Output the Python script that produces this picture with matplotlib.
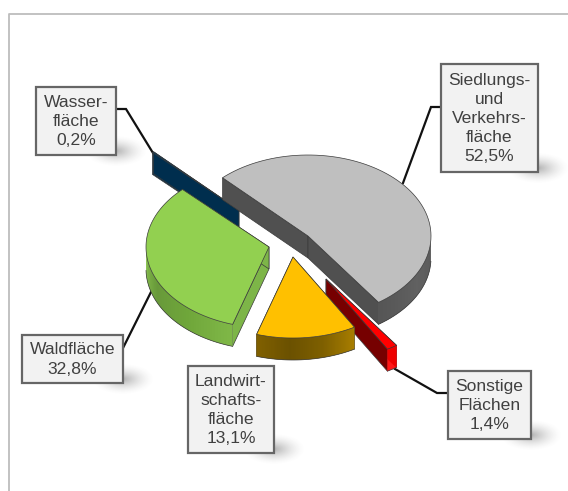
import numpy as np
import matplotlib
matplotlib.use('Agg')
import matplotlib.pyplot as plt
from matplotlib.colors import to_rgb

# data
names = ['Siedlungs-\nund\nVerkehrs-\nfläche', 'Sonstige\nFlächen', 'Landwirt-\nschafts-\nfläche',
         'Waldfläche', 'Wasser-\nfläche']
values = [52.5, 1.4, 13.1, 32.8, 0.2]

# style, one entry per slice
top_colors = ['#BFBFBF', '#FF0000', '#FFC000', '#92D050', '#003A63']
side_colors = ['#505050', '#760000', '#7F6000', '#7DB548', '#002E4E']
wall_colors = [['#5A5A5A', '#616161', '#565656'], ['#FF0000', '#FF0000'], ['#A87E00', '#7F6000', '#6B5100', '#806000'],
               ['#7FB747', '#6FA63A', '#68993A', '#88C24E'], ['#003A63', '#003A63']]
centers = [(308, 236), (326, 279), (293, 257), (269, 247), (239, 210)]
boxes = [(441, 64, 538, 172), (448, 371, 531, 439), (188, 366, 274, 453), (22, 335, 123, 383), (36, 87, 116, 155)]
leaders = [[(441, 107), (431, 107), (403, 183)],
           [(448, 393), (437, 393), (395, 369)],
           [(123, 348), (152, 290)],
           [(116, 109), (126, 109), (153, 153)]]
draw_order = [4, 0, 1, 3, 2]
RX, RY, DEPTH = 123, 81, 22
START = 134

fig = plt.figure(figsize=(5.68, 4.91), dpi=100)
ax = fig.add_axes([0, 0, 1, 1])
ax.set_xlim(0, 568)
ax.set_ylim(491, 0)
ax.axis('off')

# frame of the original slide
ax.plot([8.5, 8.5, 568], [491, 14, 14], color='#BDBDBD', lw=1.3, zorder=1)


def point(c, t):
    return c[0] + RX * np.cos(np.radians(t)), c[1] - RY * np.sin(np.radians(t))


def draw_slice(i, t1, t2):
    c = centers[i]
    tt = np.linspace(t1, t2, 80)
    xs, ys = point(c, tt)
    edge = '#3a3a3a'
    # the two cut faces
    for t in (t1, t2):
        x, y = point(c, t)
        ax.fill([c[0], x, x, c[0]], [c[1], y, y + DEPTH, c[1] + DEPTH], color=side_colors[i],
                ec=edge, lw=0.5, zorder=3)
    # outer wall, only the part facing us. each piece overlaps the next to hide seams
    a = np.linspace(0, 1, len(wall_colors[i]))
    rgb = np.array([to_rgb(col) for col in wall_colors[i]])
    ws = [t for t in tt if np.sin(np.radians(t)) <= 0]
    for k in range(len(ws) - 1):
        f = k / max(len(ws) - 2, 1)
        col = [np.interp(f, a, rgb[:, n]) for n in range(3)]
        x, y = point(c, np.array([ws[k], ws[min(k + 2, len(ws) - 1)]]))
        ax.fill([x[0], x[1], x[1], x[0]], [y[0], y[1], y[1] + DEPTH, y[0] + DEPTH], color=col, lw=0, zorder=3)
    if ws:
        x, y = point(c, np.array(ws))
        ax.plot(x, y + DEPTH, color=edge, lw=0.5, zorder=3)
    ax.fill(np.r_[c[0], xs], np.r_[c[1], ys], facecolor=top_colors[i], edgecolor=edge, lw=0.5, zorder=3)


# clockwise from the start angle, so every slice gets its angle from its value
limits = START - np.r_[0, np.cumsum(values)] * 3.6
for i in draw_order:
    draw_slice(i, limits[i], limits[i + 1])

for line in leaders:
    ax.plot([p[0] for p in line], [p[1] for p in line], color='#111111', lw=1.6, zorder=2,
            solid_joinstyle='miter')

# blurred shadow at the lower right corner of each label
yy, xx = np.mgrid[-1:1:60j, -1:1:120j]
alpha = np.clip(1 - np.sqrt(xx ** 2 + yy ** 2), 0, 1) ** 1.6 * 0.55
shadow = np.zeros(alpha.shape + (4,))
shadow[..., :3] = 0.45
shadow[..., 3] = alpha
for x0, y0, x1, y1 in boxes:
    ax.imshow(shadow, extent=(x1 - 32, x1 + 32, y1 + 12, y1 - 20), zorder=4, aspect='auto', interpolation='bilinear')
ax.set_xlim(0, 568)
ax.set_ylim(491, 0)

for name, val, (x0, y0, x1, y1) in zip(names, values, boxes):
    ax.fill([x0, x1, x1, x0], [y0, y0, y1, y1], facecolor='#F2F2F2', edgecolor='#666666', lw=1.6, zorder=5)
    label = name + '\n' + f'{val:.1f}%'.replace('.', ',')
    ax.text((x0 + x1) / 2, (y0 + y1) / 2 + 0.5, label, ha='center', va='center', ma='center', color='#404040',
            family='Liberation Sans', fontsize=12.6, linespacing=1.35, zorder=6)

fig.savefig('out.png', dpi=100)
